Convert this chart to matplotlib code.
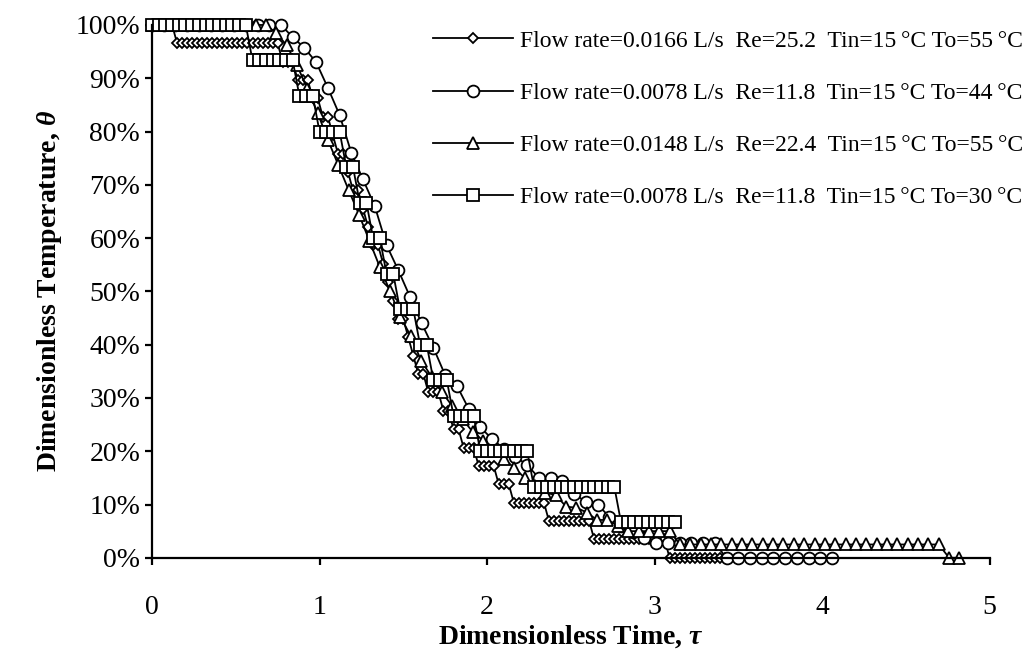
import numpy as np
import matplotlib
matplotlib.use('Agg')
import matplotlib.pyplot as plt
from matplotlib.ticker import PercentFormatter

plt.rcParams['font.family'] = ['Liberation Serif', 'DejaVu Serif']
plt.rcParams['mathtext.fontset'] = 'custom'
plt.rcParams['mathtext.rm'] = 'Liberation Serif'
plt.rcParams['mathtext.it'] = 'Liberation Serif:italic'
plt.rcParams['mathtext.bf'] = 'Liberation Serif:bold'
plt.rcParams['mathtext.bfit'] = 'Liberation Serif:italic:bold'

# data: each test is sampled at a fixed time step in tau,
# temperature read as levels with the number of samples held at each level
labels = ['Flow rate=0.0166 L/s  Re=25.2  Tin=15\u2009°C To=55\u2009°C',
          'Flow rate=0.0078 L/s  Re=11.8  Tin=15\u2009°C To=44\u2009°C',
          'Flow rate=0.0148 L/s  Re=22.4  Tin=15\u2009°C To=55\u2009°C',
          'Flow rate=0.0078 L/s  Re=11.8  Tin=15\u2009°C To=30\u2009°C']

dia_step = 0.03
dia_levels = [29, 28, 27, 26, 25, 24, 23, 22, 21, 20, 19, 18, 17, 16, 15,
              14, 13, 12, 11, 10, 9, 8, 7, 6, 5, 4, 3, 2, 1, 0]  # /29
dia_counts = [5, 21, 3, 3, 2, 2, 1, 2, 1, 2, 1, 1, 2, 1, 1,
              1, 2, 1, 1, 2, 3, 2, 2, 3, 4, 3, 7, 9, 15, 12]

cir_step = 0.07
cir_levels = [100, 97.7, 95.7, 93, 88.2, 83.1, 76, 71, 66, 58.7, 54, 49, 44,
              39.4, 34.3, 32.3, 28, 24.5, 22.3, 20.5, 19, 17.4, 15, 14.5, 12,
              10.5, 10, 7.7, 6, 4.9, 3.8, 2.7, 0]
cir_counts = [12] + [1] * 21 + [2] + [1] * 8 + [6, 10]

tri_step = 0.0618
tri_levels = [100, 98.5, 96.2, 92.5, 88, 83.5, 78.4, 73.7, 69, 64.4, 59.5,
              54.6, 50, 45.2, 41.6, 37, 34, 31.1, 28.5, 26, 23.6, 22, 20,
              18.5, 16.9, 15, 13.5, 12.2, 11.8, 9.6, 9.4, 8.5, 7.1, 6, 5, 2.5, 0]
tri_counts = [12] + [1] * 31 + [2, 1, 5, 26, 2]

sq_step = 0.04
sq_levels = [15, 14, 13, 12, 11, 10, 9, 8, 7, 6, 5, 4, 3, 2, 1]  # /15
sq_counts = [15, 7, 3, 4, 2, 2, 2, 2, 3, 2, 3, 4, 8, 13, 9]

def series(step, levels, counts, scale):
    y = np.repeat(np.array(levels, dtype=float) / scale, counts)
    x = np.arange(len(y)) * step
    return x, y

data = [series(dia_step, dia_levels, dia_counts, 29),
        series(cir_step, cir_levels, cir_counts, 100),
        series(tri_step, tri_levels, tri_counts, 100),
        series(sq_step, sq_levels, sq_counts, 15)]
markers = ['D', 'o', '^', 's']
msizes = [5, 8.5, 8.5, 8.5]

fig = plt.figure(figsize=(10.34, 6.57), dpi=100)
ax = fig.add_axes([0.147, 0.151, 0.81, 0.811])

for (x, y), m, ms, lab in zip(data, markers, msizes, labels):
    ax.plot(x, y, color='black', lw=1.3, marker=m, ms=ms, mfc='white',
            mec='black', mew=1.3, label=lab, clip_on=False)

ax.set_xlim(0, 5)
ax.set_ylim(0, 1)
ax.set_yticks(np.arange(0, 1.01, 0.1))
ax.yaxis.set_major_formatter(PercentFormatter(1.0, decimals=0))
ax.spines['top'].set_visible(False)
ax.spines['right'].set_visible(False)
ax.spines['left'].set_linewidth(1.6)
ax.spines['bottom'].set_linewidth(1.6)
ax.tick_params(direction='out', length=5, width=1.6, labelsize=20)
ax.tick_params(axis='x', pad=22)

ax.set_xlabel(r'Dimensionless Time, $\mathbfit{\tau}$', fontsize=20,
              fontweight='bold', labelpad=2)
ax.set_ylabel(r'Dimensionless Temperature, $\mathbfit{\theta}$', fontsize=20,
              fontweight='bold', labelpad=8)

ax.legend(loc='upper right', bbox_to_anchor=(1.066, 1.03), frameon=False,
          fontsize=17, handlelength=3.4, labelspacing=1.3, handletextpad=0.3)

fig.savefig('out.png', dpi=100)
